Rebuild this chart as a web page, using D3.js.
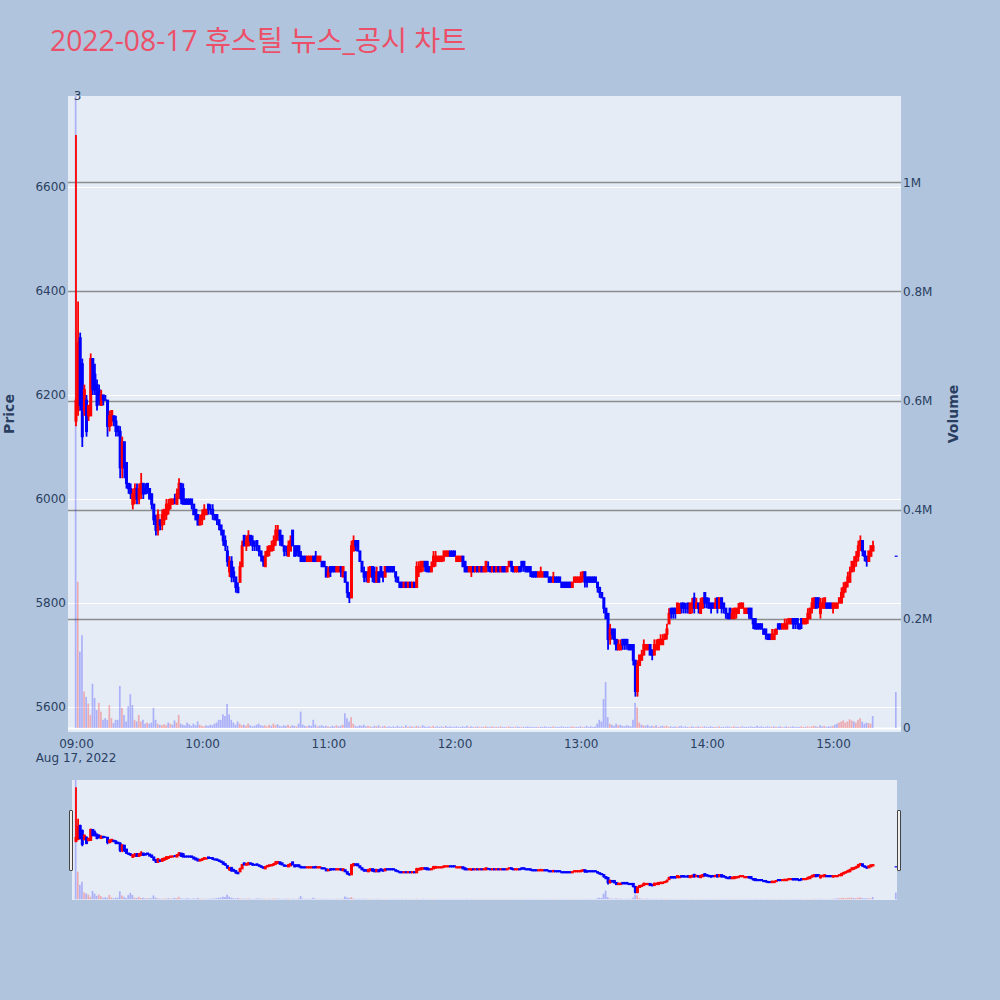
<!DOCTYPE html>
<meta charset="utf-8">
<style>
body { margin: 0; background: #b0c4de; }
svg text { font-family: "DejaVu Sans", Verdana, sans-serif; fill: #2a3f5f; }
.axis path { display: none; }
.axis line { display: none; }
</style>
<svg width="1000" height="1000"></svg>
<script src="https://d3js.org/d3.v7.min.js"></script>
<script>

var title = "2022-08-17 휴스틸 뉴스_공시 차트";

// minutes after 09:00 (continuous trading 09:00-15:19, closing auction 15:30)
var minutes = d3.range(0, 380).concat([390]);

var open = [
  6150,6170,6310,6260,6170,6190,6160,6160,6270,6240,
  6220,6210,6180,6200,6190,6190,6140,6150,6160,6150,
  6140,6130,6060,6110,6070,6030,6020,5990,6000,6020,
  6000,6010,6030,6020,6030,6020,6010,5990,5960,5940,
  5960,5950,5960,5970,5980,5990,5990,6000,5990,6010,
  6030,6020,6000,6000,6000,6000,5990,5980,5970,5950,
  5960,5970,5970,5990,5980,5980,5970,5970,5960,5950,
  5940,5920,5900,5860,5880,5860,5850,5830,5840,5870,
  5930,5910,5910,5930,5920,5910,5920,5910,5900,5890,
  5870,5890,5900,5900,5910,5920,5930,5940,5930,5910,
  5900,5890,5900,5940,5910,5910,5910,5890,5890,5890,
  5880,5880,5880,5890,5890,5880,5880,5880,5880,5870,
  5850,5870,5870,5870,5860,5860,5870,5850,5860,5840,
  5820,5810,5900,5920,5920,5900,5880,5860,5860,5840,
  5850,5870,5860,5840,5860,5870,5860,5850,5870,5870,
  5870,5870,5860,5850,5840,5840,5830,5840,5830,5840,
  5830,5840,5830,5860,5860,5870,5880,5880,5870,5860,
  5870,5880,5880,5880,5880,5890,5890,5890,5900,5900,
  5900,5880,5880,5880,5890,5880,5870,5860,5860,5870,
  5860,5870,5860,5870,5860,5860,5870,5870,5860,5870,
  5860,5870,5860,5870,5870,5860,5870,5880,5870,5860,
  5860,5870,5880,5880,5870,5870,5870,5860,5860,5860,
  5850,5850,5850,5860,5860,5850,5850,5840,5850,5850,
  5850,5840,5840,5840,5840,5840,5830,5840,5840,5840,
  5840,5850,5860,5850,5850,5850,5850,5850,5840,5830,
  5820,5810,5790,5780,5730,5750,5750,5730,5710,5710,
  5730,5730,5730,5720,5720,5720,5690,5630,5680,5690,
  5700,5710,5710,5720,5710,5700,5710,5710,5720,5720,
  5730,5740,5760,5790,5790,5790,5780,5780,5800,5800,
  5790,5800,5780,5790,5810,5790,5800,5780,5790,5820,
  5810,5800,5800,5800,5790,5810,5790,5810,5800,5790,
  5780,5790,5770,5770,5780,5780,5790,5790,5780,5780,
  5790,5790,5770,5770,5760,5760,5760,5750,5750,5740,
  5740,5730,5730,5740,5760,5760,5750,5750,5750,5760,
  5760,5770,5770,5770,5760,5770,5760,5760,5770,5770,
  5790,5790,5810,5810,5780,5790,5790,5800,5800,5800,
  5790,5790,5790,5800,5800,5820,5830,5840,5840,5860,
  5870,5880,5890,5910,5920,5900,5890,5880,5890,5900,
  5890];

var high = [
  6700,6380,6320,6270,6220,6200,6180,6280,6270,6260,
  6230,6220,6210,6200,6200,6190,6170,6170,6160,6160,
  6140,6140,6120,6110,6070,6030,6030,6020,6030,6030,
  6030,6050,6030,6030,6030,6020,6010,5990,5970,5980,
  5960,5980,5980,6000,6000,6000,6000,6010,6020,6040,
  6030,6030,6000,6000,6000,6000,5990,5980,5970,5970,
  5980,5990,5980,5990,5990,5990,5970,5970,5960,5950,
  5940,5930,5910,5890,5890,5870,5850,5840,5880,5920,
  5930,5930,5940,5930,5930,5920,5920,5910,5900,5890,
  5900,5910,5910,5920,5930,5950,5950,5940,5930,5910,
  5910,5920,5930,5940,5910,5910,5910,5900,5890,5890,
  5890,5890,5890,5890,5900,5890,5890,5880,5880,5870,
  5870,5870,5870,5870,5870,5870,5870,5870,5860,5840,
  5820,5920,5930,5920,5920,5900,5880,5870,5860,5870,
  5870,5870,5870,5870,5860,5870,5860,5870,5870,5870,
  5870,5870,5860,5850,5840,5840,5840,5840,5840,5840,
  5840,5840,5880,5880,5880,5880,5880,5880,5870,5880,
  5900,5900,5890,5890,5890,5900,5900,5900,5900,5900,
  5900,5890,5890,5890,5890,5880,5870,5870,5870,5870,
  5870,5870,5870,5870,5870,5880,5880,5870,5870,5870,
  5870,5870,5870,5870,5870,5870,5880,5880,5870,5870,
  5870,5870,5880,5880,5870,5870,5870,5860,5860,5860,
  5860,5870,5860,5860,5860,5850,5850,5860,5850,5850,
  5850,5840,5840,5840,5840,5840,5840,5850,5850,5850,
  5860,5860,5860,5850,5850,5850,5850,5850,5840,5830,
  5820,5810,5790,5780,5760,5750,5750,5730,5730,5730,
  5730,5730,5730,5720,5720,5720,5690,5690,5700,5710,
  5730,5720,5720,5720,5710,5730,5730,5730,5740,5740,
  5740,5760,5790,5790,5790,5790,5800,5800,5800,5800,
  5800,5800,5800,5810,5820,5810,5800,5810,5810,5820,
  5810,5810,5800,5800,5810,5810,5810,5810,5800,5790,
  5780,5790,5790,5790,5790,5800,5800,5800,5790,5790,
  5790,5790,5770,5770,5760,5760,5760,5750,5750,5740,
  5740,5750,5750,5750,5760,5760,5760,5770,5770,5770,
  5770,5770,5770,5770,5760,5770,5770,5770,5790,5790,
  5810,5810,5810,5810,5810,5810,5810,5800,5800,5800,
  5800,5800,5800,5810,5830,5840,5840,5860,5870,5880,
  5890,5900,5920,5930,5920,5900,5890,5900,5910,5920,
  5890];

var low = [
  6140,6160,6170,6100,6160,6120,6150,6160,6200,6200,
  6170,6180,6180,6180,6190,6120,6130,6140,6140,6120,
  6120,6040,6040,6040,6020,6010,6000,5980,5990,5990,
  5990,6000,6000,6010,6010,6000,5980,5950,5930,5930,
  5940,5940,5950,5960,5970,5980,5990,5990,5990,6000,
  5990,5990,5990,5990,5990,5980,5970,5960,5950,5950,
  5950,5960,5970,5970,5970,5960,5960,5950,5940,5930,
  5910,5900,5870,5850,5840,5840,5820,5820,5840,5870,
  5910,5900,5910,5910,5900,5900,5900,5890,5880,5870,
  5870,5890,5890,5900,5900,5910,5920,5910,5910,5890,
  5890,5890,5900,5910,5890,5890,5890,5880,5880,5880,
  5880,5880,5880,5880,5880,5880,5880,5870,5870,5850,
  5850,5850,5860,5860,5860,5860,5850,5850,5840,5810,
  5800,5810,5900,5900,5900,5880,5860,5840,5840,5840,
  5850,5840,5840,5840,5840,5850,5840,5850,5860,5860,
  5860,5860,5840,5840,5830,5830,5830,5830,5830,5830,
  5830,5830,5830,5850,5860,5860,5860,5860,5860,5860,
  5870,5870,5880,5880,5880,5880,5890,5890,5890,5890,
  5890,5880,5880,5880,5870,5860,5860,5860,5850,5860,
  5860,5860,5860,5860,5860,5860,5860,5860,5860,5860,
  5860,5860,5860,5860,5860,5860,5870,5860,5860,5860,
  5860,5860,5860,5860,5860,5860,5850,5850,5850,5850,
  5850,5850,5850,5850,5850,5840,5840,5840,5840,5840,
  5840,5830,5830,5830,5830,5830,5830,5840,5840,5840,
  5840,5840,5830,5830,5840,5840,5840,5840,5820,5810,
  5810,5780,5770,5710,5720,5730,5720,5710,5710,5710,
  5710,5710,5710,5710,5710,5680,5620,5620,5680,5690,
  5700,5710,5710,5700,5690,5700,5710,5710,5720,5720,
  5730,5730,5760,5770,5770,5770,5780,5780,5780,5780,
  5780,5780,5780,5780,5780,5790,5780,5780,5790,5790,
  5790,5790,5780,5790,5790,5780,5790,5780,5780,5770,
  5770,5770,5770,5770,5770,5780,5790,5790,5780,5780,
  5770,5770,5750,5750,5750,5750,5750,5740,5730,5730,
  5730,5730,5730,5740,5750,5750,5750,5750,5750,5760,
  5760,5750,5750,5750,5750,5750,5760,5760,5760,5770,
  5780,5790,5790,5790,5770,5790,5790,5790,5790,5790,
  5780,5790,5790,5800,5800,5810,5820,5830,5840,5860,
  5860,5870,5880,5900,5890,5880,5870,5880,5890,5900,
  5890];

var close = [
  6190,6300,6180,6120,6210,6130,6180,6270,6210,6210,
  6180,6190,6200,6190,6190,6140,6160,6170,6150,6130,
  6130,6060,6110,6060,6030,6020,6010,6010,6020,6000,
  6020,6030,6010,6010,6020,6000,5990,5960,5940,5970,
  5950,5970,5980,5990,5990,6000,6000,6000,6010,6030,
  6000,5990,5990,5990,5990,5990,5970,5960,5950,5960,
  5970,5980,5980,5980,5980,5970,5960,5960,5950,5940,
  5920,5910,5880,5880,5850,5850,5830,5820,5870,5910,
  5910,5920,5930,5920,5910,5910,5910,5900,5890,5880,
  5890,5900,5910,5910,5920,5940,5940,5920,5910,5900,
  5900,5910,5920,5910,5890,5900,5890,5880,5880,5880,
  5890,5890,5890,5880,5880,5890,5890,5870,5870,5850,
  5860,5860,5860,5860,5870,5870,5860,5870,5840,5820,
  5810,5910,5920,5910,5900,5880,5860,5850,5850,5860,
  5870,5850,5840,5860,5840,5850,5850,5870,5860,5860,
  5860,5860,5850,5840,5830,5830,5840,5830,5840,5830,
  5840,5830,5870,5870,5880,5880,5870,5860,5860,5870,
  5890,5890,5890,5890,5890,5900,5900,5900,5890,5890,
  5890,5890,5890,5890,5870,5860,5860,5870,5870,5860,
  5870,5860,5870,5860,5870,5880,5870,5860,5870,5860,
  5870,5860,5870,5860,5860,5870,5880,5870,5860,5870,
  5870,5860,5870,5870,5860,5860,5860,5850,5850,5850,
  5860,5860,5860,5850,5850,5840,5840,5850,5840,5840,
  5840,5830,5830,5830,5830,5830,5840,5850,5850,5850,
  5850,5860,5840,5840,5840,5840,5840,5840,5830,5820,
  5810,5790,5770,5730,5750,5740,5730,5710,5720,5720,
  5720,5720,5720,5710,5710,5690,5630,5680,5700,5700,
  5720,5720,5720,5700,5700,5720,5720,5730,5730,5730,
  5740,5750,5780,5780,5780,5780,5800,5790,5790,5790,
  5790,5790,5800,5800,5790,5800,5790,5800,5810,5800,
  5800,5790,5790,5790,5800,5790,5810,5790,5790,5780,
  5770,5770,5780,5790,5790,5790,5800,5800,5790,5790,
  5780,5770,5760,5750,5750,5750,5750,5740,5740,5730,
  5730,5740,5740,5750,5750,5750,5760,5760,5760,5770,
  5770,5760,5760,5760,5750,5760,5770,5770,5780,5790,
  5800,5810,5790,5800,5800,5800,5810,5790,5790,5790,
  5800,5800,5800,5810,5820,5830,5840,5850,5860,5880,
  5880,5890,5910,5920,5900,5890,5880,5900,5910,5910,
  5890];

// traded volume, thousands of shares
var volumeK = [
  1200,268,140,170,67,57,45,24,81,55,
  33,46,30,15,18,15,42,18,9,15,
  15,77,37,24,12,40,62,42,15,12,
  24,12,15,8,10,8,10,37,15,8,
  6,5,7,5,10,8,6,14,10,24,
  8,6,5,10,7,4,8,5,12,6,
  4,3,5,4,6,5,8,10,15,15,
  25,22,44,25,15,10,6,12,8,5,
  6,4,8,5,3,4,6,8,5,4,
  5,3,6,4,8,5,7,4,3,5,
  4,6,3,5,4,3,8,30,6,4,
  3,5,4,15,6,3,4,5,3,4,
  3,2,4,3,5,3,4,6,27,18,
  12,20,8,4,3,5,4,6,3,4,
  3,2,4,3,5,2,3,4,2,3,
  2,3,2,4,2,3,2,5,2,3,
  3,2,4,3,2,5,3,2,3,2,
  4,2,3,2,3,2,4,2,3,2,
  2,3,2,2,3,2,4,2,3,2,
  2,3,2,2,2,3,2,2,3,2,
  2,2,3,2,2,2,3,2,2,2,
  3,2,2,2,2,3,2,2,2,2,
  2,2,2,3,2,2,2,3,2,2,
  2,3,2,2,2,2,3,2,2,2,
  3,2,2,4,2,3,2,3,8,15,
  12,53,84,20,8,6,4,8,5,6,
  4,3,5,4,3,15,46,38,10,6,
  5,4,6,3,4,3,5,2,3,4,
  3,4,2,3,2,3,2,3,4,2,
  3,2,2,3,2,2,3,2,2,3,
  2,2,3,2,2,2,3,2,2,2,
  3,2,2,3,2,2,2,3,2,2,
  2,3,2,2,4,2,3,2,2,3,
  2,2,3,2,2,3,2,2,3,2,
  2,3,2,2,2,3,2,2,3,2,
  3,4,3,2,5,3,4,2,3,3,
  4,6,8,10,12,14,10,12,16,14,
  12,10,15,18,12,8,10,9,8,22,
  66];

var priceTicks = [5600, 5800, 6000, 6200, 6400, 6600];
var volumeTicks = [0, 200, 400, 600, 800, 1000];
var volumeTickLabels = ["0", "0.2M", "0.4M", "0.6M", "0.8M", "1M"];

var svg = d3.select("svg");

var session = new Date(2022, 7, 17, 9, 0);
function at(m) { return d3.timeSecond.offset(session, Math.round(m * 60)); }

var data = minutes.map(function(m, i) {
  return {t: at(m), o: open[i], h: high[i], l: low[i], c: close[i], v: volumeK[i],
          prev: i > 0 ? close[i - 1] : null};
});

var plot = {left: 68, right: 901, top: 96, bottom: 732};
var slider = {left: 72, right: 897, top: 780, bottom: 900};

var x = d3.scaleTime().domain([at(-3.8), at(392.3)]).range([plot.left, plot.right]);
var y = d3.scaleLinear().domain([5552, 6775]).range([plot.bottom, plot.top]);
var yv = d3.scaleLinear().domain([-7.3, 1158]).range([plot.bottom, plot.top]);
var ys = d3.scaleLinear().domain([5552, 6775]).range([slider.bottom, slider.top]);
var yvs = d3.scaleLinear().domain([-7.3, 1158]).range([slider.bottom, slider.top]);

var up = "#ff0000", down = "#0000ff";
function col(d) { return d.c > d.o ? up : down; }
// volume bars coloured against the previous close
function volCol(d) { return d.prev !== null && d.c > d.prev ? "rgba(255,0,0,0.28)" : "rgba(0,0,255,0.25)"; }

// title
svg.append("text")
    .attr("x", 50)
    .attr("y", 51)
    .style("font-family", "'Open Sans', 'Noto Sans CJK KR', sans-serif")
    .style("font-size", "28.3px")
    .style("fill", "#ec5068")
    .text(title);

// main plot background
svg.append("rect")
    .attr("x", plot.left).attr("y", plot.top)
    .attr("width", plot.right - plot.left).attr("height", plot.bottom - plot.top)
    .attr("fill", "#e5ecf6");

svg.append("defs").append("clipPath").attr("id", "clip-main")
  .append("rect")
    .attr("x", plot.left).attr("y", plot.top)
    .attr("width", plot.right - plot.left).attr("height", plot.bottom - plot.top);
svg.select("defs").append("clipPath").attr("id", "clip-slider")
  .append("rect")
    .attr("x", slider.left).attr("y", slider.top)
    .attr("width", slider.right - slider.left).attr("height", slider.bottom - slider.top);

// price grid (white) and volume grid (grey)
svg.append("g").selectAll("line")
    .data(priceTicks)
  .enter().append("line")
    .attr("x1", plot.left).attr("x2", plot.right)
    .attr("y1", function(d) { return Math.round(y(d)) + 0.5; })
    .attr("y2", function(d) { return Math.round(y(d)) + 0.5; })
    .attr("stroke", "#ffffff").attr("stroke-width", 1);

svg.append("g").selectAll("line")
    .data(volumeTicks.slice(1))
  .enter().append("line")
    .attr("x1", plot.left).attr("x2", plot.right)
    .attr("y1", function(d) { return Math.round(yv(d)) + 0.5; })
    .attr("y2", function(d) { return Math.round(yv(d)) + 0.5; })
    .attr("stroke", "#8c8c8c").attr("stroke-width", 1.3);

svg.append("line")
    .attr("x1", plot.left).attr("x2", plot.right)
    .attr("y1", Math.round(yv(0)) + 0.5).attr("y2", Math.round(yv(0)) + 0.5)
    .attr("stroke", "#ffffff").attr("stroke-width", 2);

function drawTraces(g, ySc, yvSc) {
  var base = yvSc(0);
  g.selectAll(".vol")
      .data(data)
    .enter().append("rect")
      .attr("class", "vol")
      .attr("x", function(d) { return x(d.t) - 1.2; })
      .attr("width", 1.7)
      .attr("y", function(d) { return yvSc(d.v); })
      .attr("height", function(d) { return Math.max(0, base - yvSc(d.v)); })
      .attr("fill", volCol);

  var c = g.selectAll(".candle")
      .data(data)
    .enter().append("g")
      .attr("class", "candle");
  c.append("line")
      .attr("x1", function(d) { return x(d.t); })
      .attr("x2", function(d) { return x(d.t); })
      .attr("y1", function(d) { return ySc(Math.max(d.h, d.o, d.c)); })
      .attr("y2", function(d) { return ySc(Math.min(d.l, d.o, d.c)); })
      .attr("stroke", col).attr("stroke-width", 1.8);
  c.append("rect")
      .attr("x", function(d) { return x(d.t) - 1.5; })
      .attr("width", 3)
      .attr("y", function(d) { return ySc(Math.max(d.o, d.c)) - 0.6; })
      .attr("height", function(d) { return Math.abs(ySc(d.o) - ySc(d.c)) + 1.2; })
      .attr("fill", col);
}

var main = svg.append("g").attr("clip-path", "url(#clip-main)");
drawTraces(main, y, yv);

svg.append("text")
    .attr("x", 77.5).attr("y", 100)
    .attr("text-anchor", "middle")
    .style("font-size", "12px")
    .text("3");

// axes
svg.append("g")
    .attr("class", "axis")
    .attr("transform", "translate(" + plot.left + ",0)")
    .call(d3.axisLeft(y).tickValues(priceTicks).tickFormat(d3.format("d"))
        .tickSize(0).tickPadding(2))
    .selectAll("text").style("font-size", "12px").style("fill", "#2a3f5f");

svg.append("g")
    .attr("class", "axis")
    .attr("transform", "translate(" + plot.right + ",0)")
    .call(d3.axisRight(yv).tickValues(volumeTicks)
        .tickFormat(function(d, i) { return volumeTickLabels[i]; })
        .tickSize(0).tickPadding(2))
    .selectAll("text").style("font-size", "12px").style("fill", "#2a3f5f");

var xa = svg.append("g")
    .attr("class", "axis")
    .attr("transform", "translate(0," + (plot.bottom + 4) + ")")
    .call(d3.axisBottom(x).ticks(d3.timeHour.every(1)).tickFormat(d3.timeFormat("%H:%M"))
        .tickSize(0).tickPadding(3));
xa.selectAll("text").style("font-size", "12px").style("fill", "#2a3f5f");

svg.append("text")
    .attr("x", x(session)).attr("y", 762)
    .attr("text-anchor", "middle")
    .style("font-size", "12px")
    .text(d3.timeFormat("%b %d, %Y")(session));

svg.append("text")
    .attr("transform", "translate(14,414) rotate(-90)")
    .attr("text-anchor", "middle")
    .style("font-size", "14px").style("font-weight", "bold")
    .text("Price");

svg.append("text")
    .attr("transform", "translate(958,414) rotate(-90)")
    .attr("text-anchor", "middle")
    .style("font-size", "14px").style("font-weight", "bold")
    .text("Volume");

// range slider
svg.append("rect")
    .attr("x", slider.left).attr("y", slider.top)
    .attr("width", slider.right - slider.left).attr("height", slider.bottom - slider.top)
    .attr("fill", "#e5ecf6");

var mini = svg.append("g").attr("clip-path", "url(#clip-slider)");
drawTraces(mini, ys, yvs);

[slider.left - 2, slider.right + 1].forEach(function(hx) {
  svg.append("rect")
      .attr("x", hx - 0.5).attr("y", 810.5)
      .attr("width", 3).attr("height", 60)
      .attr("rx", 0.5)
      .attr("fill", "#eeeeee").attr("stroke", "#444444").attr("stroke-width", 1);
});

</script>
